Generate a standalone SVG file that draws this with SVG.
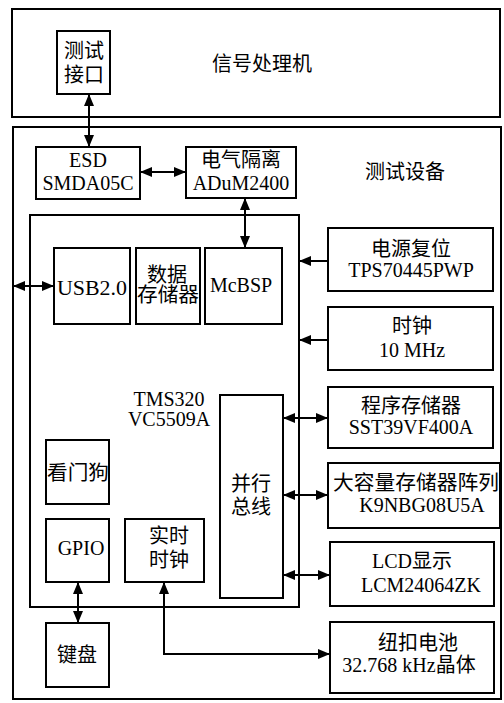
<svg xmlns="http://www.w3.org/2000/svg" width="504" height="703" viewBox="0 0 504 703">
<style>
.b{fill:none;stroke:#000;stroke-width:2}
.t{font-family:"Liberation Serif","Noto Sans CJK SC",serif;font-size:20px;fill:#000;text-anchor:middle}
.c{stroke:#000;stroke-width:2;fill:none}
</style>
<defs>
<marker id="a" viewBox="0 0 12 10" refX="12" refY="5" markerWidth="12" markerHeight="10" markerUnits="userSpaceOnUse" orient="auto-start-reverse">
<path d="M0,0 L12,5 L0,10 Z" fill="#000"/>
</marker>
</defs>
<rect width="504" height="703" fill="#fff"/>
<g id="signal-processor">
<rect class="b" x="12" y="9" width="488" height="108"/>
<text class="t" x="262" y="71" font-size="18">信号处理机</text>
</g>
<g id="test-interface">
<rect class="b" x="57" y="31" width="53" height="63"/>
<text class="t" x="84" y="58" font-size="19">测试</text>
<text class="t" x="84" y="82" font-size="19">接口</text>
</g>
<g id="test-equipment">
<rect class="b" x="13" y="127" width="488" height="572"/>
<text class="t" x="405" y="179" font-size="18">测试设备</text>
</g>
<g id="esd">
<rect class="b" x="36" y="147" width="104" height="52"/>
<text class="t" x="88" y="167">ESD</text>
<text class="t" x="88" y="190">SMDA05C</text>
</g>
<g id="isolation">
<rect class="b" x="186" y="147" width="110" height="51"/>
<text class="t" x="241" y="167">电气隔离</text>
<text class="t" x="241" y="190">ADuM2400</text>
</g>
<g id="dsp">
<rect class="b" x="30" y="215" width="269" height="392"/>
<text class="t" x="169" y="406">TMS320</text>
<text class="t" x="169" y="426">VC5509A</text>
</g>
<g id="usb">
<rect class="b" x="54" y="248" width="76" height="76"/>
<text class="t" x="92" y="295" textLength="70" lengthAdjust="spacingAndGlyphs">USB2.0</text>
</g>
<g id="data-memory">
<rect class="b" x="136" y="248" width="64" height="76"/>
<text class="t" x="167" y="282">数据</text>
<text class="t" x="168" y="302" textLength="62" lengthAdjust="spacingAndGlyphs">存储器</text>
</g>
<g id="mcbsp">
<rect class="b" x="205" y="248" width="77" height="76"/>
<text class="t" x="241" y="292">McBSP</text>
</g>
<g id="parallel-bus">
<rect class="b" x="220" y="395" width="63" height="203"/>
<text class="t" x="251" y="491">并行</text>
<text class="t" x="251" y="514">总线</text>
</g>
<g id="watchdog">
<rect class="b" x="46" y="440" width="63" height="64"/>
<text class="t" x="78" y="480" textLength="62" lengthAdjust="spacingAndGlyphs">看门狗</text>
</g>
<g id="gpio">
<rect class="b" x="46" y="519" width="63" height="63"/>
<text class="t" x="81" y="555">GPIO</text>
</g>
<g id="rtc">
<rect class="b" x="125" y="519" width="79" height="63"/>
<text class="t" x="169" y="543">实时</text>
<text class="t" x="169" y="567">时钟</text>
</g>
<g id="keyboard">
<rect class="b" x="46" y="623" width="63" height="64"/>
<text class="t" x="77" y="662">键盘</text>
</g>
<g id="power-reset">
<rect class="b" x="328" y="228" width="165" height="63"/>
<text class="t" x="411" y="256">电源复位</text>
<text class="t" x="411" y="277">TPS70445PWP</text>
</g>
<g id="clock">
<rect class="b" x="328" y="307" width="165" height="63"/>
<text class="t" x="412" y="333">时钟</text>
<text class="t" x="412" y="357">10 MHz</text>
</g>
<g id="program-memory">
<rect class="b" x="328" y="387" width="165" height="61"/>
<text class="t" x="411" y="413">程序存储器</text>
<text class="t" x="411" y="434">SST39VF400A</text>
</g>
<g id="mass-storage">
<rect class="b" x="328" y="463" width="172" height="65"/>
<text class="t" x="416" y="490" textLength="166" lengthAdjust="spacingAndGlyphs">大容量存储器阵列</text>
<text class="t" x="422" y="512">K9NBG08U5A</text>
</g>
<g id="lcd">
<rect class="b" x="330" y="542" width="164" height="64"/>
<text class="t" x="412" y="568">LCD显示</text>
<text class="t" x="421" y="592">LCM24064ZK</text>
</g>
<g id="battery">
<rect class="b" x="330" y="622" width="164" height="71"/>
<text class="t" x="418" y="650">纽扣电池</text>
<text class="t" x="409" y="672">32.768 kHz晶体</text>
</g>
<g id="connectors">
<line class="c" x1="89" y1="147" x2="89" y2="94" marker-start="url(#a)" marker-end="url(#a)"/>
<line class="c" x1="140" y1="172" x2="186" y2="172" marker-start="url(#a)" marker-end="url(#a)"/>
<line class="c" x1="245" y1="198" x2="245" y2="248" marker-start="url(#a)" marker-end="url(#a)"/>
<line class="c" x1="13" y1="286" x2="54" y2="286" marker-start="url(#a)" marker-end="url(#a)"/>
<line class="c" x1="328" y1="261" x2="299" y2="261" marker-end="url(#a)"/>
<line class="c" x1="328" y1="340" x2="299" y2="340" marker-end="url(#a)"/>
<line class="c" x1="283" y1="418" x2="328" y2="418" marker-start="url(#a)" marker-end="url(#a)"/>
<line class="c" x1="283" y1="495" x2="328" y2="495" marker-start="url(#a)" marker-end="url(#a)"/>
<line class="c" x1="283" y1="575" x2="330" y2="575" marker-start="url(#a)" marker-end="url(#a)"/>
<line class="c" x1="78" y1="582" x2="78" y2="623" marker-start="url(#a)" marker-end="url(#a)"/>
<polyline class="c" points="164,582 164,654 330,654" marker-start="url(#a)" marker-end="url(#a)"/>
</g>
</svg>
